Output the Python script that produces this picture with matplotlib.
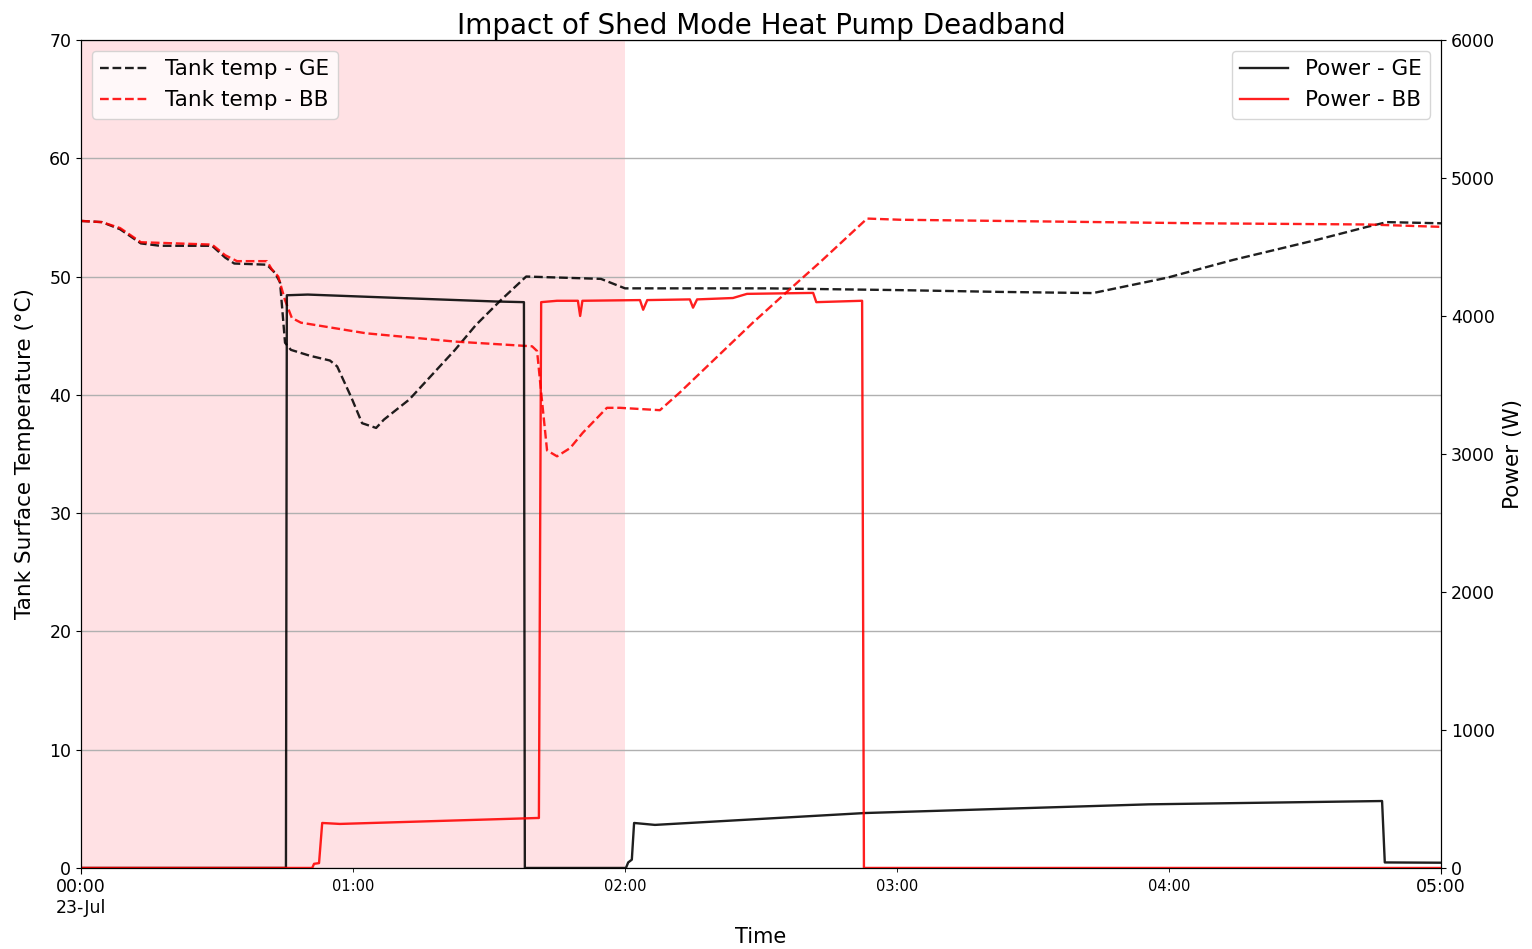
import matplotlib
matplotlib.use("Agg")
import matplotlib.pyplot as plt
import matplotlib.dates as mdates
import matplotlib.ticker as mticker
import pandas as pd

# ---- data (minutes after midnight, 23 July) ----
ge_temp_min = [0, 4.6, 8.6, 13.2, 17.4, 28.9, 31.8, 33.8, 41.0, 42.8, 43.9, 45.0,
               46.3, 50.5, 54.9, 56.5, 59.6, 62.0, 65.1, 66.8, 72.4, 82.5, 87.1,
               92.6, 98.2, 114.7, 118.0, 120.0, 151.3, 180.7, 202.7, 223.2, 239.6,
               254.1, 272.6, 283.7, 288.1, 300.0]
ge_temp = [54.7, 54.6, 54.0, 52.8, 52.6, 52.6, 51.6, 51.1, 51.0, 50.3, 49.5, 44.4,
           43.8, 43.3, 42.9, 42.4, 39.8, 37.6, 37.2, 37.9, 39.6, 43.8, 45.9,
           48.0, 50.0, 49.8, 49.3, 49.0, 49.0, 48.85, 48.7, 48.6, 49.9,
           51.4, 53.1, 54.2, 54.6, 54.5]

bb_temp_min = [0, 4.6, 8.6, 13.2, 28.9, 31.8, 34.4, 41.0, 42.1, 43.5, 45.0, 46.5,
               48.5, 62.9, 82.5, 99.5, 100.6, 101.5, 102.8, 105.0, 107.9, 110.7,
               116.0, 118.9, 127.7, 132.1, 138.1, 148.2, 158.6, 163.0, 173.4,
               180.7, 202.7, 246.8, 283.7, 300.0]
bb_temp = [54.7, 54.6, 54.1, 52.9, 52.7, 51.8, 51.3, 51.3, 50.6, 50.0, 48.0, 46.5,
           46.1, 45.2, 44.5, 44.1, 43.7, 40.2, 35.3, 34.8, 35.5, 36.8,
           38.9, 38.9, 38.7, 40.2, 42.4, 46.1, 49.7, 51.2, 54.9,
           54.8, 54.7, 54.5, 54.4, 54.2]

ge_power_min = [0, 45.2, 45.4, 50.0, 70.4, 91.3, 97.7, 97.9, 120.2, 120.7, 121.5,
                122.0, 126.6, 172.9, 235.6, 287.0, 287.6, 300.0]
ge_power = [0, 0, 4150, 4155, 4130, 4105, 4100, 0, 0, 40, 60,
            326, 312, 398, 461, 485, 40, 38]

bb_power_min = [0, 51.0, 51.4, 52.5, 53.2, 57.1, 100.6, 101.0, 101.5, 105.0, 109.6,
                110.1, 110.6, 123.3, 124.0, 124.9, 134.3, 135.0, 135.9, 143.8,
                146.9, 161.5, 162.2, 172.3, 172.7, 300.0]
bb_power = [0, 0, 30, 35, 326, 319, 362, 362, 4100, 4110, 4110,
            4000, 4110, 4115, 4045, 4115, 4120, 4060, 4120, 4130,
            4160, 4167, 4100, 4110, 0, 0]

shed_start_min, shed_end_min = 0, 120

day = pd.Timestamp("2019-07-23")


def at(minutes):
    return day + pd.to_timedelta(minutes, unit="m")


fig = plt.figure(figsize=(15.32, 9.49), dpi=100)
ax = fig.add_axes([0.0529, 0.0854, 0.8877, 0.8725])
ax2 = ax.twinx()

# shed window
ax.axvspan(at(shed_start_min), at(shed_end_min), facecolor="#ffe1e4",
           edgecolor="none", zorder=0)

ax.plot(at(ge_temp_min), ge_temp, color="k", ls="--", lw=1.7, alpha=0.88,
        label="Tank temp - GE")
ax.plot(at(bb_temp_min), bb_temp, color="red", ls="--", lw=1.7, alpha=0.88,
        label="Tank temp - BB")

ax2.plot(at(ge_power_min), ge_power, color="k", lw=1.7, alpha=0.88,
         label="Power - GE")
ax2.plot(at(bb_power_min), bb_power, color="red", lw=1.7, alpha=0.88,
         label="Power - BB")

ax.set_xlim(at(0), at(300))
ax.set_ylim(0, 70)
ax2.set_ylim(0, 6000)
ax.yaxis.set_major_locator(mticker.MultipleLocator(10))
ax2.yaxis.set_major_locator(mticker.MultipleLocator(1000))
ax.grid(axis="y", color="#b0b0b0", lw=1)

# date ticks: major at the ends, minor every hour
ax.xaxis.set_major_locator(mticker.FixedLocator(
    [mdates.date2num(at(0)), mdates.date2num(at(300))]))
ax.xaxis.set_major_formatter(mticker.FixedFormatter(["00:00\n23-Jul", "05:00"]))
ax.xaxis.set_minor_locator(mticker.FixedLocator(
    [mdates.date2num(at(m)) for m in (60, 120, 180, 240)]))
ax.xaxis.set_minor_formatter(mticker.FixedFormatter(
    ["01:00", "02:00", "03:00", "04:00"]))
ax.tick_params(axis="x", which="major", labelsize=12.5, length=4)
ax.tick_params(axis="x", which="minor", labelsize=10.5, length=3, pad=5)
ax.tick_params(axis="y", labelsize=12.5)
ax2.tick_params(axis="y", labelsize=12.5)

ax.set_xlabel("Time", fontsize=15, labelpad=7)
ax.set_ylabel("Tank Surface Temperature (°C)", fontsize=15.5, labelpad=10)
ax2.set_ylabel("Power (W)", fontsize=15.5, labelpad=6)
ax.set_title("Impact of Shed Mode Heat Pump Deadband", fontsize=20, pad=1)

ax.legend(loc="upper left", fontsize=15.5, handlelength=2.2)
ax2.legend(loc="upper right", fontsize=15.5, handlelength=2.2)

fig.savefig("out.png", dpi=100)
